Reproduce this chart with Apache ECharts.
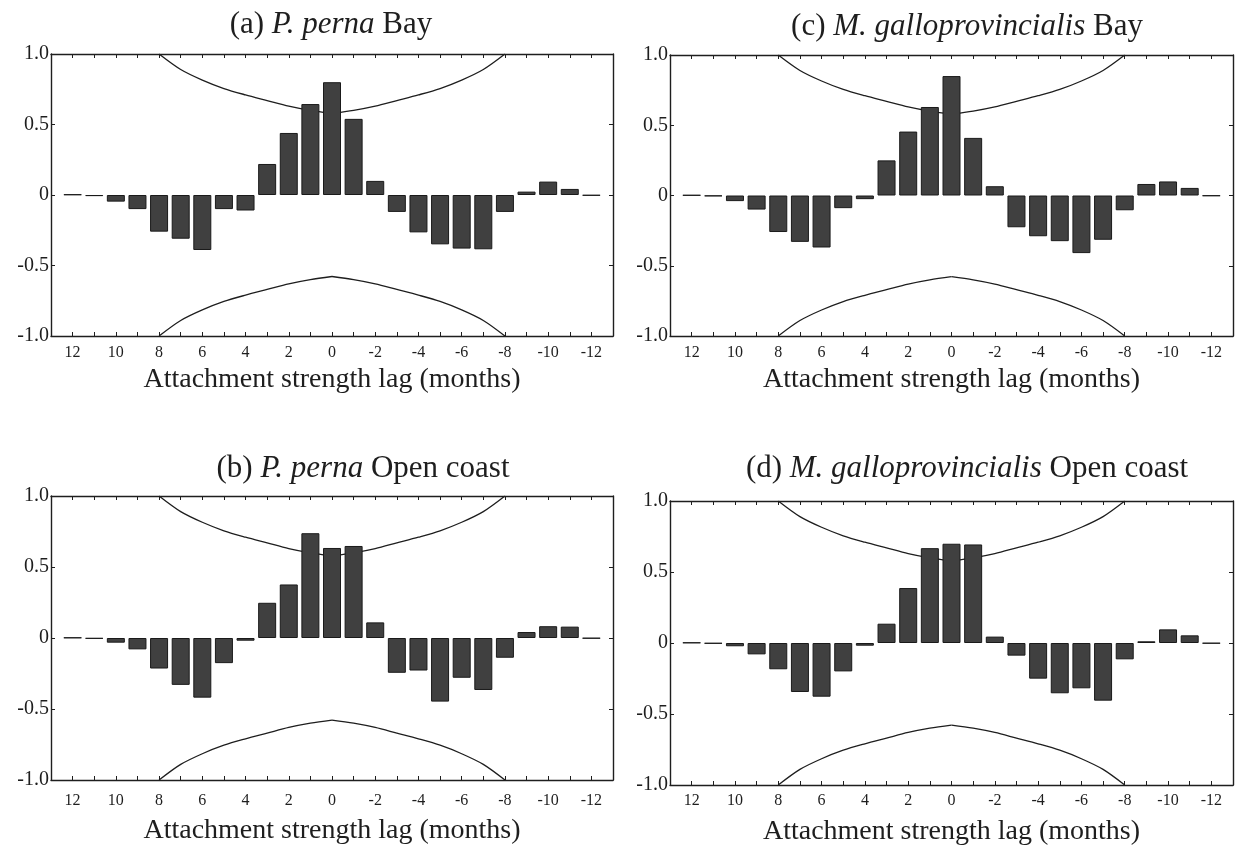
<!DOCTYPE html>
<html>
<head>
<meta charset="utf-8">
<script src="https://cdn.jsdelivr.net/npm/echarts@6/dist/echarts.min.js"></script>
<style>
  html, body { margin: 0; padding: 0; background: #fff; }
  #chart { width: 1235px; height: 845px; }
</style>
</head>
<body>
<div id="chart"></div>
<script>
// Lag axis (months), running from +13 on the left to -13 on the right
const lagCategories = ['13', '12', '11', '10', '9', '8', '7', '6', '5', '4', '3', '2', '1', '0',
  '-1', '-2', '-3', '-4', '-5', '-6', '-7', '-8', '-9', '-10', '-11', '-12', '-13'];
const labelledLags = ['12', '10', '8', '6', '4', '2', '0', '-2', '-4', '-6', '-8', '-10', '-12'];
const yTicks = [-1, -0.5, 0, 0.5, 1];

// Cross-correlation coefficients for lags 12 .. -12
const pPernaBay = [0.004, -0.008, -0.047, -0.10, -0.26, -0.31, -0.39, -0.10, -0.11, 0.22, 0.44, 0.645, 0.80,
  0.54, 0.10, -0.12, -0.265, -0.35, -0.38, -0.385, -0.12, 0.024, 0.095, 0.043, -0.004];
const pPernaOpen = [0.003, -0.005, -0.033, -0.08, -0.215, -0.33, -0.42, -0.177, -0.019, 0.248, 0.377, 0.738, 0.634,
  0.648, 0.11, -0.245, -0.229, -0.448, -0.28, -0.366, -0.139, 0.042, 0.083, 0.08, -0.003];
const mGalloBay = [0.003, -0.005, -0.04, -0.10, -0.26, -0.33, -0.37, -0.09, -0.026, 0.25, 0.455, 0.63, 0.85,
  0.41, 0.066, -0.226, -0.29, -0.325, -0.41, -0.315, -0.105, 0.082, 0.10, 0.054, -0.003];
const mGalloOpen = [0.003, -0.004, -0.023, -0.08, -0.185, -0.345, -0.378, -0.20, -0.019, 0.136, 0.387, 0.668, 0.699,
  0.694, 0.045, -0.089, -0.251, -0.354, -0.319, -0.406, -0.115, 0.012, 0.096, 0.054, -0.003];

// Approximate 95% confidence limits, lags 8 .. -8
const ciUpper = [1.0, 0.89, 0.815, 0.755, 0.71, 0.67, 0.63, 0.60, 0.578, 0.60, 0.63, 0.67, 0.71, 0.755, 0.815, 0.89, 1.0];
const ciLower = [-1.0, -0.89, -0.815, -0.755, -0.71, -0.67, -0.63, -0.60, -0.578, -0.60, -0.63, -0.67, -0.71, -0.755, -0.815, -0.89, -1.0];

const panelTitles = [
  { tag: '(a) ', species: 'P. perna', site: ' Bay' },
  { tag: '(c) ', species: 'M. galloprovincialis', site: ' Bay' },
  { tag: '(b) ', species: 'P. perna', site: ' Open coast' },
  { tag: '(d) ', species: 'M. galloprovincialis', site: ' Open coast' }
];
const panelSeries = [pPernaBay, mGalloBay, pPernaOpen, mGalloOpen];
const xAxisName = 'Attachment strength lag (months)';

const FONT = "'Liberation Serif', 'Times New Roman', serif";
const INK = '#1e1e1e';

const grids = [
  { left: 51, top: 54, width: 562, height: 282, outerBoundsMode: 'none' },
  { left: 670, top: 55, width: 563, height: 281, outerBoundsMode: 'none' },
  { left: 51, top: 496, width: 562, height: 284, outerBoundsMode: 'none' },
  { left: 670, top: 501, width: 563, height: 284, outerBoundsMode: 'none' }
];
// title centre x and top y for each panel
const titlePos = [[326, 4], [962, 6], [358, 448], [962, 448]];
// tick-label margin and axis-name gap for each panel
const labelMargin = [9, 9, 13, 8];
const nameGap = [30, 30, 37, 33];

function padLags(values) {
  return [null].concat(values, [null]);
}
// confidence arms: left arm covers lags 8..0, right arm lags 0..-8,
// drawn separately so the curve keeps its point at lag 0
function leftArm(values) {
  const half = values.slice(0, 9);
  return [null, null, null, null, null].concat(half);
}
function rightArm(values) {
  const half = values.slice(8);
  const lead = [];
  for (let k = 0; k < 13; k++) lead.push(null);
  return lead.concat(half, [null, null, null, null, null]);
}

const option = {
  backgroundColor: '#ffffff',
  animation: false,
  title: [],
  grid: grids,
  xAxis: [],
  yAxis: [],
  series: []
};

grids.forEach((g, i) => {
  const t = panelTitles[i];
  option.title.push({
    text: '{n|' + t.tag + '}{i|' + t.species + '}{n|' + t.site + '}',
    left: titlePos[i][0],
    top: titlePos[i][1],
    textAlign: 'center',
    textStyle: {
      fontWeight: 'normal',
      rich: {
        n: { fontFamily: FONT, fontSize: 31, fontWeight: 'normal', color: INK },
        i: { fontFamily: FONT, fontSize: 31, fontWeight: 'normal', fontStyle: 'italic', color: INK }
      }
    }
  });

  // bottom lag axis with labels and name
  option.xAxis.push({
    gridIndex: i,
    type: 'category',
    data: lagCategories,
    boundaryGap: false,
    position: 'bottom',
    name: xAxisName,
    nameLocation: 'middle',
    nameGap: nameGap[i],
    nameTextStyle: { fontFamily: FONT, fontSize: 28, color: INK },
    axisLine: { onZero: false, lineStyle: { color: INK, width: 1.4 } },
    axisTick: { inside: true, length: 4, interval: 0, lineStyle: { color: INK, width: 1 } },
    axisLabel: {
      interval: (idx, v) => labelledLags.indexOf(v) >= 0,
      fontFamily: FONT, fontSize: 16, color: INK, margin: labelMargin[i]
    },
    splitLine: { show: false }
  });
  // top frame edge with inward ticks
  option.xAxis.push({
    gridIndex: i,
    type: 'category',
    data: lagCategories,
    boundaryGap: false,
    position: 'top',
    axisLine: { onZero: false, lineStyle: { color: INK, width: 1.4 } },
    axisTick: { inside: true, length: 4, interval: 0, lineStyle: { color: INK, width: 1 } },
    axisLabel: { show: false },
    splitLine: { show: false }
  });

  option.yAxis.push({
    gridIndex: i,
    type: 'value',
    min: -1, max: 1, interval: 0.5,
    position: 'left',
    axisLine: { show: true, lineStyle: { color: INK, width: 1.4 } },
    axisTick: { show: true, inside: true, length: 4, lineStyle: { color: INK } },
    axisLabel: {
      fontFamily: FONT, fontSize: 20, color: INK, margin: 2,
      formatter: v => (yTicks.indexOf(v) >= 0 ? (v === 0 ? '0' : v.toFixed(1)) : '')
    },
    splitLine: { show: false }
  });
  option.yAxis.push({
    gridIndex: i,
    type: 'value',
    min: -1, max: 1, interval: 0.5,
    position: 'right',
    axisLine: { show: true, lineStyle: { color: INK, width: 1.4 } },
    axisTick: { show: true, inside: true, length: 4, lineStyle: { color: INK } },
    axisLabel: { show: false },
    splitLine: { show: false }
  });

  const xi = i * 2;
  const yi = i * 2;
  [leftArm(ciUpper), rightArm(ciUpper), leftArm(ciLower), rightArm(ciLower)].forEach(arm => {
    option.series.push({
      type: 'line',
      xAxisIndex: xi, yAxisIndex: yi,
      data: arm,
      smooth: 0.3,
      symbol: 'none',
      z: 1,
      lineStyle: { color: INK, width: 1.3 }
    });
  });
  option.series.push({
    type: 'bar',
    xAxisIndex: xi, yAxisIndex: yi,
    data: padLags(panelSeries[i]),
    barWidth: 18,
    z: 2,
    itemStyle: { color: '#404040', borderColor: '#1a1a1a', borderWidth: 1 }
  });
});

const chart = echarts.init(document.getElementById('chart'), null, { renderer: 'canvas' });
chart.setOption(option);
</script>
</body>
</html>
